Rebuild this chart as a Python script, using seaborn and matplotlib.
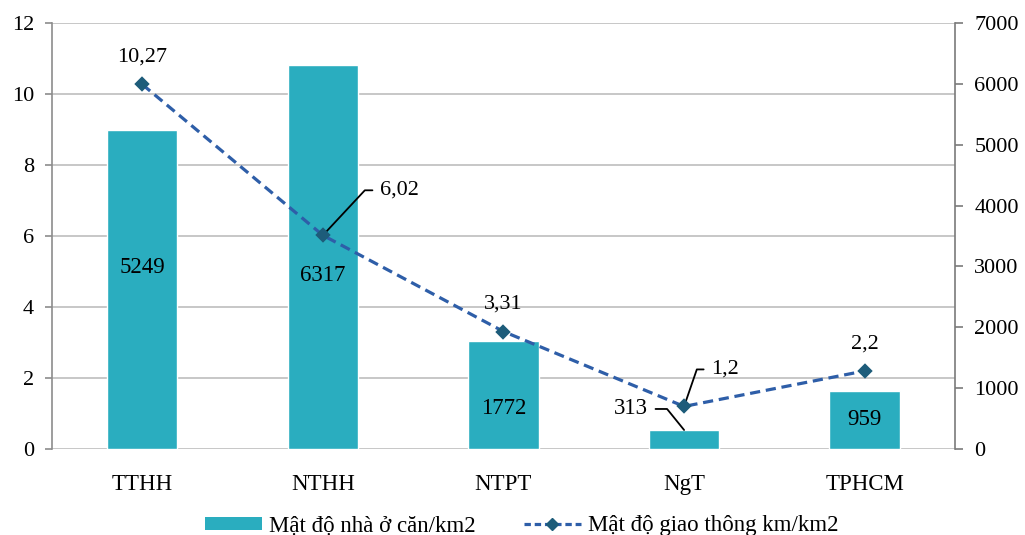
import matplotlib
matplotlib.use("Agg")
import matplotlib.pyplot as plt
import seaborn as sns
import pandas as pd
from matplotlib.patches import Patch
from matplotlib.lines import Line2D

# Data
regions = ["TTHH", "NTHH", "NTPT", "NgT", "TPHCM"]
housing_density = [5249, 6317, 1772, 313, 959]          # căn/km2 (right axis)
traffic_density = [10.27, 6.02, 3.31, 1.2, 2.2]          # km/km2 (left axis)
traffic_labels = ["10,27", "6,02", "3,31", "1,2", "2,2"]
left_ticks = [0, 2, 4, 6, 8, 10, 12]
right_ticks = [0, 1000, 2000, 3000, 4000, 5000, 6000, 7000]
legend_labels = ["Mật độ nhà ở căn/km2", "Mật độ giao thông km/km2"]

# Vertical nudges (pixels) for the in-bar labels so they clear the line
bar_label_nudge = [22, -19, -13, 0, 0]

BAR_COLOR = "#2AADBF"
LINE_COLOR = "#2E5EA8"
MARKER_COLOR = "#1D5C7A"
GRID_COLOR = "#BDBDBD"
SPINE_COLOR = "#8C8C8C"

sns.set_theme(style="white")
plt.rcParams["font.family"] = ["Liberation Serif", "DejaVu Serif"]
plt.rcParams["text.color"] = "black"

df = pd.DataFrame({"region": regions,
                   "housing": housing_density,
                   "traffic": traffic_density})

fig = plt.figure(figsize=(10.25, 5.35), dpi=100)
ax = fig.add_axes([0.0507, 0.1607, 0.8810, 0.7963])   # grid + left scale
ax2 = ax.twinx()                                       # bars, right scale
ax3 = ax.twinx()                                       # line, left scale

# Bars: housing density on the right axis
sns.barplot(data=df, x="region", y="housing", order=regions, color=BAR_COLOR,
            saturation=1, width=0.39, ax=ax2)

for i, (v, dy) in enumerate(zip(housing_density, bar_label_nudge)):
    if v >= 500:
        ax2.annotate(str(v), xy=(i, v / 2), xytext=(0, dy), textcoords="offset pixels",
                     ha="center", va="center", fontsize=16.5, color="black")
    else:
        # Small bar labelled outside with a leader line
        ax2.annotate(str(v), xy=(i, v), xytext=(-36, 21), textcoords="offset pixels",
                     ha="right", va="center", fontsize=16.5, color="black",
                     arrowprops=dict(arrowstyle="-", color="black", lw=1.3,
                                     relpos=(1, 0.5), shrinkA=3, shrinkB=0,
                                     connectionstyle="angle,angleA=0,angleB=129,rad=0"))

# Line: traffic density on the left scale
sns.pointplot(data=df, x="region", y="traffic", order=regions, color=LINE_COLOR,
              markers="D", linestyles="--", errorbar=None, ax=ax3,
              markersize=6.5, linewidth=2.3)
ln = ax3.lines[0]
ln.set_linestyle((0, (3.2, 1.8)))
ln.set_markerfacecolor(MARKER_COLOR)
ln.set_markeredgecolor(MARKER_COLOR)
ln.set_zorder(5)

# Value labels for the line
callouts = {1: ((57, 45), 47), 3: ((27, 37), 71)}
for i, (v, lab) in enumerate(zip(traffic_density, traffic_labels)):
    if i in callouts:
        off, ang = callouts[i]
        ax3.annotate(lab, xy=(i, v), xytext=off, textcoords="offset pixels",
                     ha="left", va="center", fontsize=16, color="black",
                     arrowprops=dict(arrowstyle="-", color="black", lw=1.3,
                                     relpos=(0, 0.5), shrinkA=3, shrinkB=0,
                                     connectionstyle=f"angle,angleA=0,angleB={ang},rad=0"))
    else:
        ax3.annotate(lab, xy=(i, v), xytext=(0, 27), textcoords="offset pixels",
                     ha="center", va="center", fontsize=16, color="black")

# Left axis (grid)
ax.set_ylim(0, 12)
ax.set_yticks(left_ticks)
ax.set_yticklabels([str(t) for t in left_ticks])
ax.yaxis.grid(True, color=GRID_COLOR, linewidth=1.2)
ax.set_axisbelow(True)
for s in ["top", "right", "bottom"]:
    ax.spines[s].set_visible(False)
ax.spines["left"].set_color(SPINE_COLOR)
ax.spines["left"].set_linewidth(1.2)
ax.tick_params(axis="y", left=True, length=5, width=1.2, color=SPINE_COLOR,
               labelsize=16, pad=8, labelcolor="black")
ax.set_xlim(-0.5, len(regions) - 0.5)
ax.set_xticks(range(len(regions)))
ax.set_xticklabels(regions)
ax.tick_params(axis="x", length=0, labelsize=16.5, pad=18, labelcolor="black")
ax.set_xlabel("")
ax.set_ylabel("")

# Right axis (bars)
ax2.set_ylim(0, 7000)
ax2.set_yticks(right_ticks)
ax2.set_yticklabels([str(t) for t in right_ticks])
ax2.grid(False)
for s in ["top", "left", "bottom"]:
    ax2.spines[s].set_visible(False)
ax2.spines["right"].set_visible(True)
ax2.spines["right"].set_color("#7A7A7A")
ax2.spines["right"].set_linewidth(1.2)
ax2.tick_params(axis="y", right=True, length=6, width=1.2, color="#7A7A7A",
                labelsize=16, pad=8, labelcolor="black")
ax2.set_ylabel("")
ax2.set_xlabel("")

# Overlay axis for the line
ax3.set_ylim(0, 12)
ax3.grid(False)
for s in ax3.spines.values():
    s.set_visible(False)
ax3.set_yticks([])
ax3.set_ylabel("")
ax3.set_xlabel("")
ax3.set_xlim(-0.5, len(regions) - 0.5)

# Legend
handles = [Patch(facecolor=BAR_COLOR, edgecolor="none"),
           Line2D([0], [0], color=LINE_COLOR, lw=2.3, linestyle=(0, (2.0, 1.2)),
                  marker="D", markersize=6.5, markerfacecolor=MARKER_COLOR,
                  markeredgecolor=MARKER_COLOR)]
leg = fig.legend(handles, legend_labels, loc="center", bbox_to_anchor=(0.509, 0.017),
                 ncol=2, frameon=False, fontsize=16.5, handlelength=2.5, handleheight=0.5,
                 handletextpad=0.3, columnspacing=2.1, borderpad=0.1)
for t in leg.get_texts():
    t.set_color("black")

fig.savefig("out.png", dpi=100)
